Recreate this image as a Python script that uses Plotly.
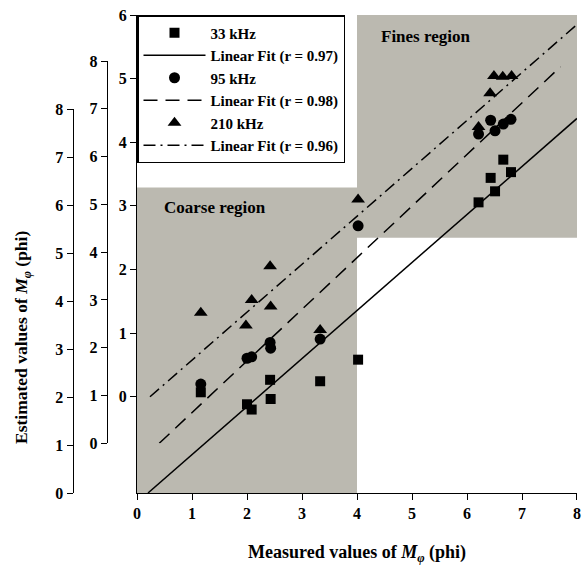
import plotly.graph_objects as go

# ---- data ----
x33 = [1.16, 2.00, 2.085, 2.42, 2.43, 3.33, 4.02, 6.21, 6.43, 6.51, 6.66, 6.80]
y33 = [2.10, 1.85, 1.74, 2.36, 1.96, 2.33, 2.78, 6.06, 6.57, 6.29, 6.95, 6.69]

x95 = [1.16, 2.00, 2.085, 2.42, 2.43, 3.33, 4.02, 6.21, 6.43, 6.51, 6.66, 6.80]
y95 = [1.24, 1.78, 1.81, 2.11, 1.99, 2.18, 4.55, 6.47, 6.76, 6.54, 6.68, 6.78]

x210 = [1.16, 1.98, 2.085, 2.42, 2.43, 3.33, 4.02, 6.21, 6.42, 6.49, 6.65, 6.81]
y210 = [1.32, 1.12, 1.52, 2.05, 1.42, 1.05, 3.10, 4.24, 4.77, 5.04, 5.03, 5.04]

fit33_x = [0.20, 8.00]
fit33_y = [0.00, 7.81]
fit95_x = [0.405, 7.70]
fit95_y = [0.00, 7.88]
fit210_x = [0.236, 8.00]
fit210_y = [0.00, 5.85]

x_ticks = [0, 1, 2, 3, 4, 5, 6, 7, 8]
yA_ticks = [0, 1, 2, 3, 4, 5, 6, 7, 8]
yB_ticks = [0, 1, 2, 3, 4, 5, 6, 7, 8]
yC_ticks = [0, 1, 2, 3, 4, 5, 6]

coarse_x = [0, 4]
coarse_y = [-1.513, 3.29]
fines_x = [4, 8.02]
fines_y = [2.50, 6.0]

FONT = "Liberation Serif"
GRAY = "#bbb9b0"

fig = go.Figure()

fig.add_trace(go.Scatter(x=x33, y=y33, mode="markers", name="<b>33 kHz</b>",
                         xaxis="x", yaxis="y2", cliponaxis=False,
                         marker=dict(symbol="square", size=10, color="black")))
fig.add_trace(go.Scatter(x=fit33_x, y=fit33_y, mode="lines", name="<b>Linear Fit (r = 0.97)</b>",
                         xaxis="x", yaxis="y2", cliponaxis=False,
                         line=dict(color="black", width=1.5)))
fig.add_trace(go.Scatter(x=x95, y=y95, mode="markers", name="<b>95 kHz</b>",
                         xaxis="x", yaxis="y3", cliponaxis=False,
                         marker=dict(symbol="circle", size=11, color="black")))
fig.add_trace(go.Scatter(x=fit95_x, y=fit95_y, mode="lines", name="<b>Linear Fit (r = 0.98)</b>",
                         xaxis="x", yaxis="y3", cliponaxis=False,
                         line=dict(color="black", width=1.5, dash="14px,8px")))
fig.add_trace(go.Scatter(x=x210, y=y210, mode="markers", name="<b>210 kHz</b>",
                         xaxis="x", yaxis="y", cliponaxis=False,
                         marker=dict(symbol="triangle-up", size=12, color="black")))
fig.add_trace(go.Scatter(x=fit210_x, y=fit210_y, mode="lines", name="<b>Linear Fit (r = 0.96)</b>",
                         xaxis="x", yaxis="y", cliponaxis=False,
                         line=dict(color="black", width=1.5, dash="12px,5px,2px,5px")))

# shaded regions
fig.add_shape(type="rect", xref="x", yref="y", x0=coarse_x[0], x1=coarse_x[1],
              y0=coarse_y[0], y1=coarse_y[1], fillcolor=GRAY, line=dict(width=0), layer="below")
fig.add_shape(type="rect", xref="x", yref="y", x0=fines_x[0], x1=fines_x[1],
              y0=fines_y[0], y1=fines_y[1], fillcolor=GRAY, line=dict(width=0), layer="below")

tickfont = dict(family=FONT, size=16, color="black")
common_y = dict(showgrid=False, zeroline=False, showline=True, linecolor="black", linewidth=1,
                ticks="outside", ticklen=6, tickcolor="black", tickfont=tickfont,
                automargin=False)

W, H = 584, 565
L, R, T, B = 72, 7, 15, 72
pw = W - L - R   # 505
ph = H - T - B   # 478
ref_left, ref_bottom = L, H - B


def bold(ts):
    return [f"<b>{t}</b>" for t in ts]


fig.update_layout(
    width=W, height=H,
    margin=dict(l=L, r=R, t=T, b=B, autoexpand=False),
    paper_bgcolor="white", plot_bgcolor="rgba(0,0,0,0)",
    font=dict(family=FONT, color="black"),
    xaxis=dict(domain=[(137 - ref_left) / pw, 1], range=[0, 8.0001], anchor="y", automargin=False,
               showgrid=False, zeroline=False, showline=True, linecolor="black", linewidth=1,
               ticks="outside", ticklen=6, tickcolor="black", tickfont=tickfont,
               tickvals=x_ticks, ticktext=bold(x_ticks)),
    yaxis=dict(domain=[0, 1], range=[-1.513, 6.0001], anchor="x",
               tickvals=yC_ticks, ticktext=bold(yC_ticks), **common_y),
    yaxis2=dict(domain=[0, (ref_bottom - 109.3) / ph], range=[0, 8.0001], anchor="free", position=0.001,
                tickvals=yA_ticks, ticktext=bold(yA_ticks), **common_y),
    yaxis3=dict(domain=[(ref_bottom - 443.3) / ph, (ref_bottom - 61) / ph], range=[0, 8.0001],
                anchor="free", position=(106.7 - ref_left) / pw,
                tickvals=yB_ticks, ticktext=bold(yB_ticks), **common_y),
    showlegend=True,
    legend=dict(x=(137 - ref_left) / pw, y=1, xanchor="left", yanchor="top", xref="paper", yref="paper",
                bgcolor="white", bordercolor="black", borderwidth=1.5,
                font=dict(family=FONT, size=15, color="black"),
                itemwidth=62, tracegroupgap=0, traceorder="normal"),
)

fig.add_annotation(text="<b>Coarse region</b>", x=1.42, y=2.98, xref="x", yref="y",
                   showarrow=False, font=dict(family=FONT, size=17, color="black"))
fig.add_annotation(text="<b>Fines region</b>", x=5.24, y=5.67, xref="x", yref="y",
                   showarrow=False, font=dict(family=FONT, size=17, color="black"))

fig.add_annotation(text="<b>Estimated values of <i>M</i><sub><i>φ</i></sub> (phi)</b>",
                   x=(22 - ref_left) / pw, y=(ref_bottom - 338) / ph, xref="paper", yref="paper",
                   textangle=-90, showarrow=False, xanchor="center", yanchor="middle",
                   font=dict(family=FONT, size=17.5, color="black"))
fig.add_annotation(text="<b>Measured values of <i>M</i><sub><i>φ</i></sub> (phi)</b>",
                   x=(357 - ref_left) / pw, y=(ref_bottom - 553) / ph, xref="paper", yref="paper",
                   showarrow=False, xanchor="center", yanchor="middle",
                   font=dict(family=FONT, size=18, color="black"))

# remove the default 8px page margin so the figure fills the window exactly
fig.write_html("out.html",
               config={"displayModeBar": False},
               post_script="document.body.style.margin='0';document.body.style.overflow='hidden';")
